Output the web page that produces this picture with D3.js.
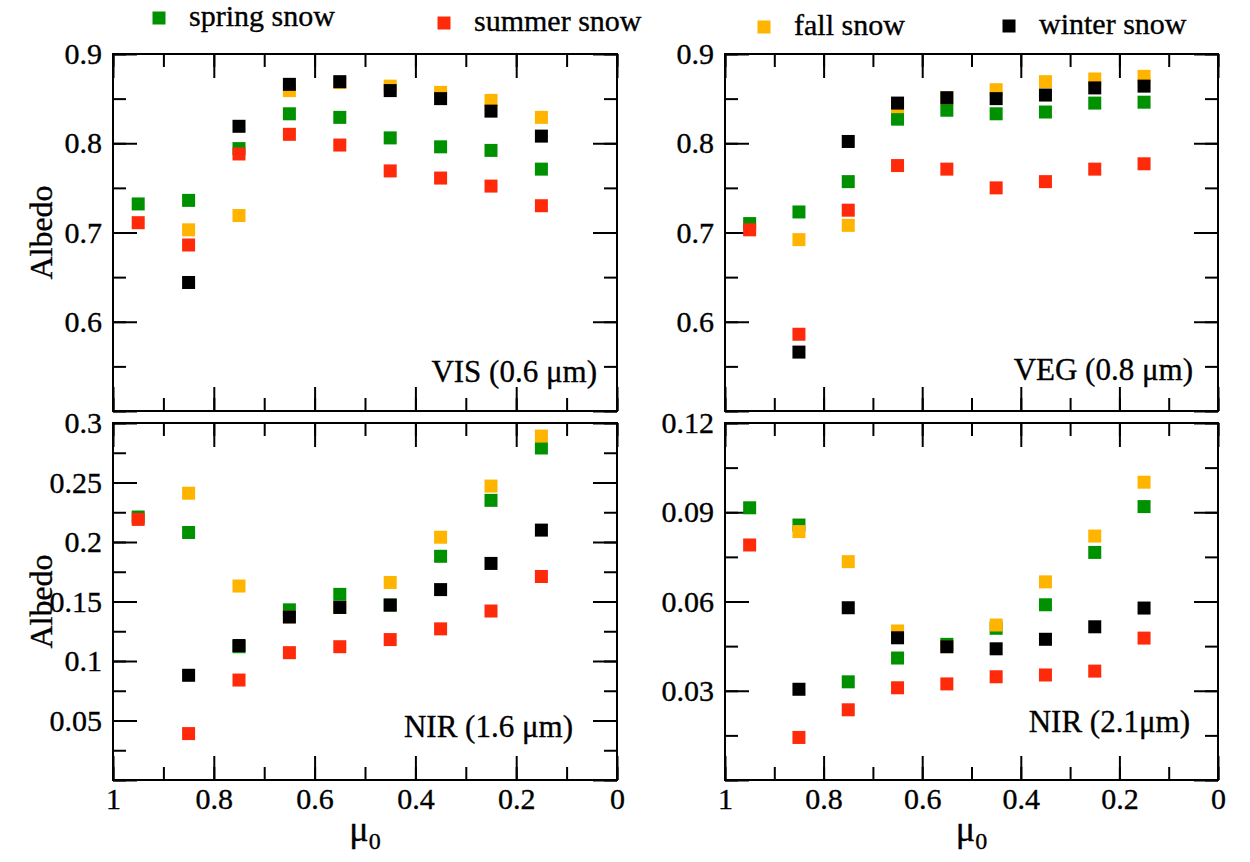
<!DOCTYPE html>
<html>
<head>
<meta charset="utf-8">
<script src="https://cdn.jsdelivr.net/npm/d3@7"></script>
<style>
body { margin: 0; background: #fff; }
text { font-family: "Liberation Serif", "DejaVu Serif", serif; fill: #000; stroke: #000; stroke-width: 0.35px; }
.axis path { display: none; }
.axis line { stroke: #000; stroke-width: 2; }
.axis text { font-size: 30px; }
.frame { fill: none; stroke: #000; stroke-width: 2; }
</style>
</head>
<body>
<svg width="1250" height="862"></svg>
<script>
var mu0 = [0.95, 0.85, 0.75, 0.65, 0.55, 0.45, 0.35, 0.25, 0.15];
var seasons = ["spring snow", "summer snow", "fall snow", "winter snow"];
var xTicks = [1, 0.8, 0.6, 0.4, 0.2, 0];

// VIS (0.6 um)
var visSpring = [0.732, 0.736, 0.794, 0.833, 0.829, 0.806, 0.796, 0.792, 0.771];
var visSummer = [0.711, 0.686, 0.788, 0.810, 0.798, 0.769, 0.761, 0.752, 0.730];
var visFall   = [null, 0.703, 0.719, 0.859, 0.868, 0.864, 0.857, 0.848, 0.829];
var visWinter = [null, 0.644, 0.819, 0.866, 0.869, 0.859, 0.850, 0.836, 0.808];
var visTicks  = [0.6, 0.7, 0.8, 0.9];

// VEG (0.8 um)
var vegSpring = [0.710, 0.723, 0.757, 0.827, 0.837, 0.833, 0.835, 0.845, 0.846];
var vegSummer = [0.703, 0.586, 0.725, 0.775, 0.771, 0.750, 0.757, 0.771, 0.777];
var vegFall   = [null, 0.692, 0.708, 0.841, 0.851, 0.860, 0.869, 0.872, 0.875];
var vegWinter = [null, 0.566, 0.802, 0.845, 0.851, 0.850, 0.854, 0.862, 0.864];
var vegTicks  = [0.6, 0.7, 0.8, 0.9];

// NIR (1.6 um)
var nir16Spring = [0.221, 0.208, 0.112, 0.143, 0.156, 0.147, 0.188, 0.235, 0.279];
var nir16Summer = [0.219, 0.039, 0.084, 0.107, 0.112, 0.118, 0.127, 0.142, 0.171];
var nir16Fall   = [null, 0.241, 0.163, 0.137, 0.145, 0.166, 0.204, 0.247, 0.289];
var nir16Winter = [null, 0.088, 0.113, 0.137, 0.145, 0.147, 0.160, 0.182, 0.210];
var nir16Ticks  = [0.05, 0.1, 0.15, 0.2, 0.25, 0.3];

// NIR (2.1 um)
var nir21Spring = [0.0915, 0.0857, 0.0330, 0.0410, 0.0456, 0.0510, 0.0589, 0.0765, 0.0919];
var nir21Summer = [0.0790, 0.0143, 0.0236, 0.0310, 0.0323, 0.0347, 0.0353, 0.0366, 0.0477];
var nir21Fall   = [null, 0.0835, 0.0734, 0.0501, 0.0448, 0.0521, 0.0666, 0.0820, 0.1001];
var nir21Winter = [null, 0.0305, 0.0579, 0.0478, 0.0448, 0.0441, 0.0473, 0.0515, 0.0578];
var nir21Ticks  = [0.03, 0.06, 0.09, 0.12];

var colors = ["#009100", "#ff2a0a", "#ffb400", "#000000"];
var majorLen = 24, minorLen = 13, markSize = 13;
var serif = "'Liberation Serif', 'DejaVu Serif', serif";

var svg = d3.select("svg");

var panels = [
  {series: [visSpring, visSummer, visFall, visWinter], ticks: visTicks, y0: 0.5, y1: 0.9,
   major: 0.1, minor: 0.05, label: "VIS (0.6 \u03bcm)", left: 113, top: 54, width: 504,
   labelDx: 20, labelDy: 29, xLabels: false, yTitle: true},
  {series: [vegSpring, vegSummer, vegFall, vegWinter], ticks: vegTicks, y0: 0.5, y1: 0.9,
   major: 0.1, minor: 0.05, label: "VEG (0.8 \u03bcm)", left: 725, top: 54, width: 493,
   labelDx: 25, labelDy: 31, xLabels: false, yTitle: false},
  {series: [nir16Spring, nir16Summer, nir16Fall, nir16Winter], ticks: nir16Ticks, y0: 0, y1: 0.3,
   major: 0.05, minor: 0.025, label: "NIR (1.6 \u03bcm)", left: 113, top: 423, width: 504,
   labelDx: 44, labelDy: 43, xLabels: true, yTitle: true},
  {series: [nir21Spring, nir21Summer, nir21Fall, nir21Winter], ticks: nir21Ticks, y0: 0, y1: 0.12,
   major: 0.03, minor: 0.015, label: "NIR (2.1\u03bcm)", left: 725, top: 423, width: 493,
   labelDx: 28, labelDy: 48, xLabels: true, yTitle: false}
];
var panelHeight = 357;

function fmt(d) { return String(+d.toFixed(3)); }

panels.forEach(function(p) {
  var w = p.width, h = panelHeight;
  var g = svg.append("g").attr("transform", "translate(" + p.left + "," + p.top + ")");

  var x = d3.scaleLinear().domain([1, 0]).range([0, w]);
  var y = d3.scaleLinear().domain([p.y0, p.y1]).range([h, 0]);

  var xMinor = d3.range(0, 1.0001, 0.1);
  var yMinor = d3.range(p.y0, p.y1 + 1e-9, p.minor);
  var yMajor = d3.range(p.y0, p.y1 + 1e-9, p.major);

  // minor ticks on all four sides
  g.append("g").attr("class", "axis")
    .attr("transform", "translate(0," + h + ")")
    .call(d3.axisBottom(x).tickValues(xMinor).tickSize(-minorLen).tickFormat(""));
  g.append("g").attr("class", "axis")
    .call(d3.axisTop(x).tickValues(xMinor).tickSize(-minorLen).tickFormat(""));
  g.append("g").attr("class", "axis")
    .call(d3.axisLeft(y).tickValues(yMinor).tickSize(-minorLen).tickFormat(""));
  g.append("g").attr("class", "axis")
    .attr("transform", "translate(" + w + ",0)")
    .call(d3.axisRight(y).tickValues(yMinor).tickSize(-minorLen).tickFormat(""));

  // major ticks
  g.append("g").attr("class", "axis")
    .attr("transform", "translate(0," + h + ")")
    .call(d3.axisBottom(x).tickValues(xTicks).tickSize(-majorLen).tickPadding(8)
      .tickFormat(p.xLabels ? fmt : ""));
  g.append("g").attr("class", "axis")
    .call(d3.axisTop(x).tickValues(xTicks).tickSize(-majorLen).tickFormat(""));
  g.append("g").attr("class", "axis")
    .call(d3.axisLeft(y).tickValues(yMajor).tickSize(-majorLen).tickFormat(""));
  g.append("g").attr("class", "axis")
    .call(d3.axisLeft(y).tickValues(p.ticks).tickSize(0).tickPadding(11).tickFormat(fmt));
  g.append("g").attr("class", "axis")
    .attr("transform", "translate(" + w + ",0)")
    .call(d3.axisRight(y).tickValues(yMajor).tickSize(-majorLen).tickFormat(""));

  g.selectAll(".axis").attr("font-family", serif);
  g.selectAll(".axis text").style("font-family", serif);

  g.append("rect").attr("class", "frame")
    .attr("x", 0).attr("y", 0).attr("width", w).attr("height", h);

  p.series.forEach(function(vals, si) {
    var pts = mu0.map(function(m, i) { return {x: m, y: vals[i]}; })
      .filter(function(d) { return d.y != null; });
    g.selectAll(".s" + si)
      .data(pts)
      .enter().append("rect")
      .attr("class", "s" + si)
      .attr("x", function(d) { return x(d.x) - markSize / 2; })
      .attr("y", function(d) { return y(d.y) - markSize / 2; })
      .attr("width", markSize)
      .attr("height", markSize)
      .attr("fill", colors[si]);
  });

  g.append("text")
    .attr("x", w - p.labelDx)
    .attr("y", h - p.labelDy)
    .attr("text-anchor", "end")
    .style("font-family", serif)
    .style("font-size", "31px")
    .text(p.label);

  if (p.yTitle) {
    g.append("text")
      .attr("transform", "translate(-61," + (h / 2) + ") rotate(-90)")
      .attr("text-anchor", "middle")
      .style("font-family", serif)
      .style("font-size", "32px")
      .text("Albedo");
  }

  if (p.xLabels) {
    var t = g.append("text")
      .attr("x", w / 2)
      .attr("y", h + 61)
      .attr("text-anchor", "middle")
      .style("font-family", serif)
      .style("font-size", "36px");
    t.append("tspan").text("\u03bc");
    t.append("tspan").attr("dy", 8).style("font-size", "24px").text("0");
  }
});

// legend
var legX = [159, 444, 764, 1009];
var legY = [18, 23, 27, 26];
var legend = svg.append("g");
seasons.forEach(function(s, i) {
  legend.append("rect")
    .attr("x", legX[i] - markSize / 2)
    .attr("y", legY[i] - markSize / 2)
    .attr("width", markSize)
    .attr("height", markSize)
    .attr("fill", colors[i]);
  legend.append("text")
    .attr("x", legX[i] + 30)
    .attr("y", legY[i] + 8)
    .style("font-family", serif)
    .style("font-size", "30px")
    .text(s);
});
</script>
</body>
</html>
